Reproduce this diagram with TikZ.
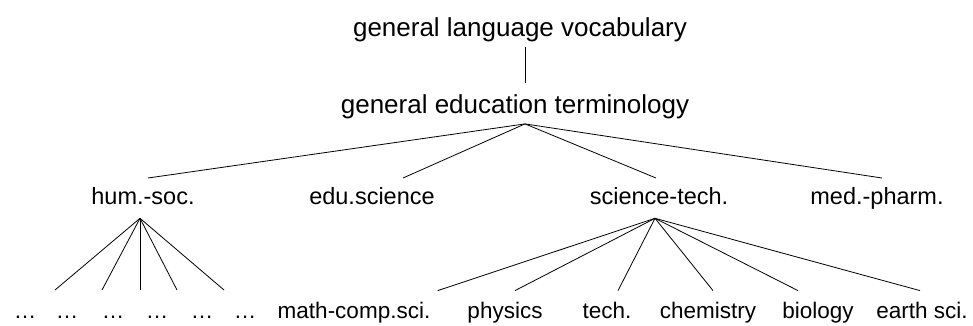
\documentclass[tikz,border=0pt]{standalone}
\usepackage{fontspec}
\setmainfont{Liberation Sans}
\usepackage{tikz}

\begin{document}
\begin{tikzpicture}[x=1pt,y=-1pt,
        top/.style={font=\fontsize{26}{30}\selectfont,inner sep=3pt,anchor=base,
                    text height=19.5pt,text depth=6.5pt},
        branch/.style={font=\fontsize{23.5}{28}\selectfont,inner sep=8pt,anchor=base,
                    text height=17.6pt,text depth=5.9pt},
        leaf/.style={font=\fontsize{22.5}{27}\selectfont,inner sep=10pt,anchor=base,
                    text height=17pt,text depth=5.7pt},
        line width=0.8pt]

    \useasboundingbox (0,0) rectangle (973,325);

    % root and second level
    \node[top] (gl) at (520,36) {general language vocabulary};
    \node[top] (ge) at (515,113) {general education terminology};
    \draw ([xshift=5pt,yshift=-1pt]gl.south) -- ([xshift=10pt,yshift=7pt]ge.north);

    % fields
    \node[branch] (hs) at (143,204) {hum.-soc.};
    \node[branch] (es) at (372,204) {edu.science};
    \node[branch] (st) at (659,204) {science-tech.};
    \node[branch] (mp) at (877,204) {med.-pharm.};

    \coordinate (apex) at ([xshift=10pt,yshift=-1pt]ge.south);
    \draw (apex) -- ([xshift=5pt]hs.north);
    \draw (apex) -- ([xshift=31pt]es.north);
    \draw (apex) -- ([xshift=-3pt]st.north);
    \draw (apex) -- ([xshift=5pt]mp.north);

    % humanities: unnamed sub-fields
    \foreach \x [count=\i] in {25,67,113,157,202,245}
        \node[leaf] (d\i) at (\x,318) {\dots};
    \foreach \x [count=\i] in {55,102,140,177,224}
        \coordinate (h\i) at (\x,290);
    \foreach \i in {1,...,5}
        \draw ([xshift=-3pt]hs.south) -- (h\i);

    % science and technology
    \node[leaf] (mc) at (354,318) {math-comp.sci.};
    \node[leaf] (ph) at (505,318) {physics};
    \node[leaf] (te) at (607,318) {tech.};
    \node[leaf] (ch) at (708,318) {chemistry};
    \node[leaf] (bi) at (818,318) {biology};
    \node[leaf] (ea) at (922,318) {earth sci.};

    \coordinate (fork) at ([xshift=-4pt]st.south);
    \draw (fork) -- ([xshift=-3pt]mc.north east);
    \draw (fork) -- ([xshift=10pt]ph.north);
    \draw (fork) -- ([xshift=11pt]te.north);
    \draw (fork) -- ([xshift=5pt]ch.north);
    \draw (fork) -- ([xshift=-20pt]bi.north);
    \draw (fork) -- ([xshift=-2pt]ea.north);
\end{tikzpicture}
\end{document}
